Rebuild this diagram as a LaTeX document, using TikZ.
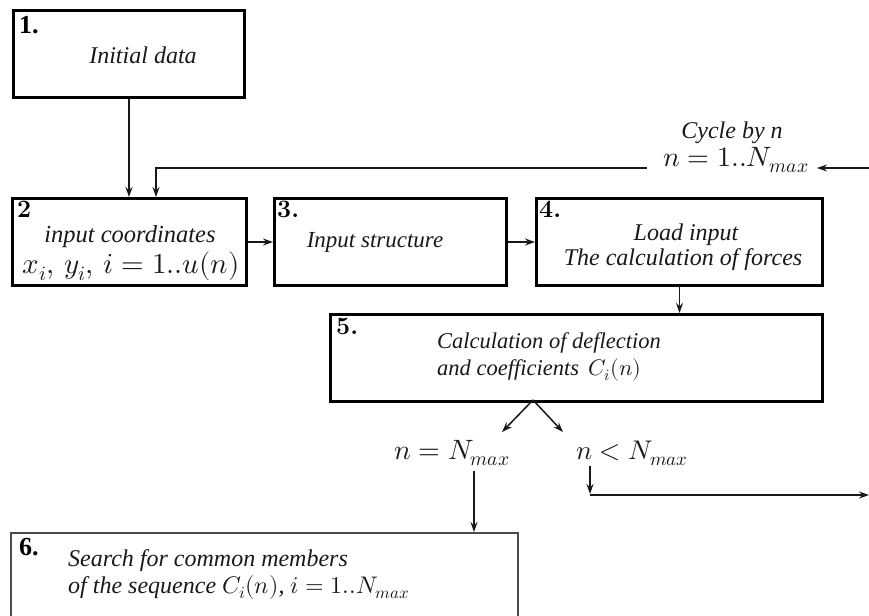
\documentclass[tikz,border=0pt]{standalone}
\usepackage{fontspec}
\usepackage{unicode-math}
\setmathfont{Latin Modern Math}
\newfontfamily\tms{Liberation Serif}
\usetikzlibrary{arrows.meta}
\newcommand\fs[2]{\fontsize{#1}{#2}\selectfont}
\begin{document}
\begin{tikzpicture}[x=1pt,y=-1pt,
  box/.style={draw=black, line width=3pt, anchor=north west, inner sep=0pt},
  thinbox/.style={draw=black!70, line width=1.6pt, anchor=north west, inner sep=0pt},
  arr/.style={-{Stealth[length=10pt,width=7pt]}, line width=1.5pt, draw=black!90},
  lbl/.style={anchor=north west, inner sep=0pt, text=black, font=\fs{25}{29}\bfseries},
  tlbl/.style={anchor=north west, inner sep=0pt, text=black, font=\tms\fs{26}{30}\bfseries},
  txt/.style={inner sep=0pt, text=black!90, font=\tms\itshape\fs{23}{27}},
  mth/.style={inner sep=0pt, text=black!90, font=\fs{28}{32}},
]
\useasboundingbox (0,0) rectangle (869,615);
\clip (0,0) rectangle (869,615);

% boxes
\node[box, minimum width=231pt, minimum height=87pt] (b1) at (12,9) {};
\node[box, minimum width=234pt, minimum height=87pt] (b2) at (11,197) {};
\node[box, minimum width=232pt, minimum height=87pt] (b3) at (273,197) {};
\node[box, minimum width=286pt, minimum height=87pt] (b4) at (535,197) {};
\node[box, minimum width=492pt, minimum height=87pt] (b5) at (329,313) {};
\node[thinbox, minimum width=507pt, minimum height=110pt] (b6) at (10,532) {};

% labels
\node[tlbl] (l1) at (19,16) {1.};
\node[lbl] (l2) at (17,201) {2};
\node[lbl] (l3) at (277,201) {3.};
\node[lbl] (l4) at (539,201) {4.};
\node[lbl] (l5) at (336,318) {5.};
\node[tlbl] (l6) at (19,538) {6.};

% texts
\node[txt, font=\tms\itshape\fs{24}{28}] (t1) at (143,55) {Initial data};
\node[txt, font=\tms\itshape\fs{24.5}{28}, anchor=base] (t2a) at (130,242) {input coordinates};
\node[mth, font=\fs{29}{33}, anchor=base] (t2b) at (131,273) {$x_i,\, y_i,\, i=1..u(n)$};
\node[txt, anchor=base] (t3) at (375,247) {Input structure};
\node[txt, font=\tms\itshape\fs{24}{28}, anchor=base] (t4a) at (686,240) {Load input};
\node[txt, font=\tms\itshape\fs{24}{28}, anchor=base] (t4b) at (683,265) {The calculation of forces};
\node[txt, font=\tms\itshape\fs{22.5}{27}, anchor=base west] (t5a) at (437,348) {Calculation of deflection};
\node[txt, font=\tms\itshape\fs{22.5}{27}, anchor=base west] (t5b) at (437,375) {and coefficients\, $C_i(n)$};
\node[txt, font=\tms\itshape\fs{24}{28}, anchor=base west] (t6a) at (68,566) {Search for common members};
\node[txt, font=\tms\itshape\fs{24}{28}, anchor=base west] (t6b) at (68,593) {of the sequence $C_i(n)$, $i=1..N_{max}$};

\node[txt, font=\tms\itshape\fs{24}{28}, anchor=base] (cyc) at (732,139) {Cycle by n};
\node[mth, anchor=base] (nrng) at (736,166) {$n=1..N_{max}$};
\node[mth, anchor=base] (neq) at (452,459) {$n=N_{max}$};
\node[mth, font=\fs{27}{31}, anchor=base] (nlt) at (632,459) {$n<N_{max}$};

% coordinates
\coordinate (rin) at (869,168);
\coordinate (cyE) at (817,168);
\coordinate (cyW) at (647,168);
\coordinate (b2in) at (156,197);
\coordinate (apex) at (533,400);
\coordinate (tipL) at (502,432);
\coordinate (tipR) at (563,432);
\coordinate (eqS) at (474,471);
\coordinate (ltS) at (590,466);
\coordinate (ltE) at (590,494);
\coordinate (rout) at (869,495);

% connectors
\draw[arr] (b1.south) -- (b1.south |- b2.north);
\draw[arr] (rin) -- (cyE);
\draw[arr] (cyW) -| (b2in);
\draw[arr] (b2.east) -- (b3.west);
\draw[arr] (b3.east) -- (b4.west);
\draw[arr] (b4.south) -- (b4.south |- b5.north);
\draw[arr] (apex) -- (tipL);
\draw[arr] (apex) -- (tipR);
\draw[arr] (eqS) -- (eqS |- b6.north);
\draw[arr] (ltS) -- (ltE);
\draw[arr] (ltE |- rout) -- (rout);
\end{tikzpicture}
\end{document}
